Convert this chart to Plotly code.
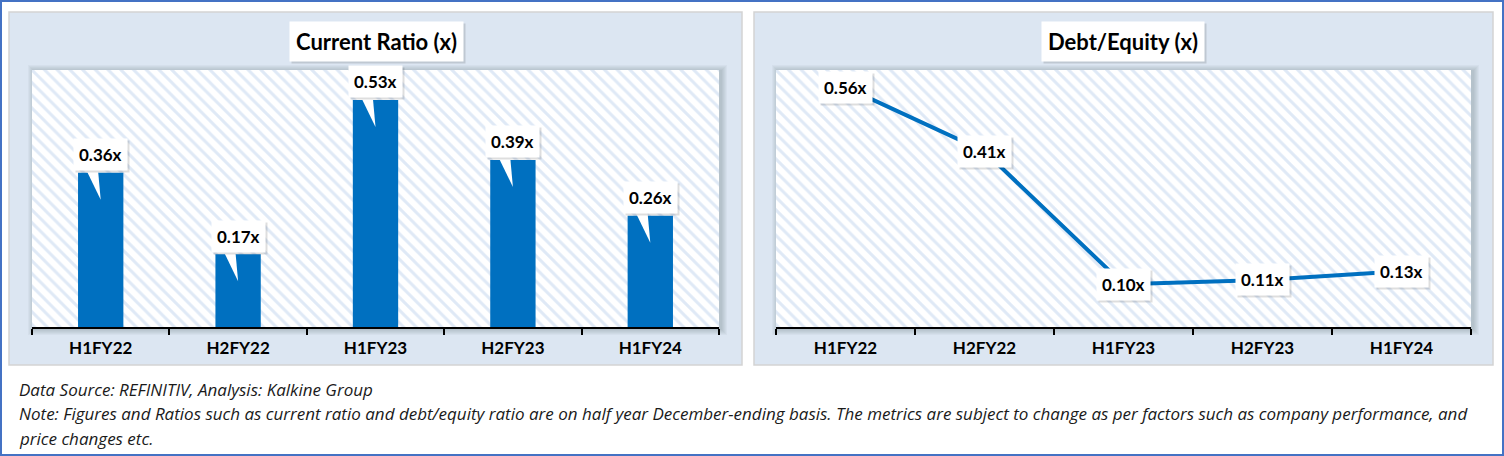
import plotly.graph_objects as go

# ---------------- data ----------------
categories = ["H1FY22", "H2FY22", "H1FY23", "H2FY23", "H1FY24"]
current_ratio = [0.36, 0.17, 0.53, 0.39, 0.26]
debt_equity = [0.56, 0.41, 0.10, 0.11, 0.13]
current_labels = [f"{v:.2f}x" for v in current_ratio]
debt_labels = [f"{v:.2f}x" for v in debt_equity]
title_left = "Current Ratio (x)"
title_right = "Debt/Equity (x)"
note_lines = [
    "Data Source: REFINITIV, Analysis: Kalkine Group",
    "Note: Figures and Ratios such as current ratio and debt/equity ratio are on half year December-ending basis. "
    "The metrics are subject to change as per factors such as company performance, and",
    "price changes etc.",
]

# ---------------- layout helpers ----------------
W, H = 1504, 456
FONT = "Lato"
NOTE_FONT = "Open Sans"
BLUE = "#0070c0"


def px(x):
    return x / W


def py(y):
    return 1 - y / H


LEFT_PLOT = (32, 70, 719, 327)
RIGHT_PLOT = (776, 70, 1471, 327)

fig = go.Figure()

# hatched white plot backgrounds on hidden base axes
for xa, ya in [("x", "y"), ("x3", "y3")]:
    fig.add_trace(go.Bar(
        x=[0.5], y=[1], width=[1], xaxis=xa, yaxis=ya,
        marker=dict(color="white", line_width=0,
                    pattern=dict(shape="\\", fgcolor="#bfd3ee", size=9, solidity=0.33)),
        hoverinfo="skip", showlegend=False,
    ))

# current ratio bars
fig.add_trace(go.Bar(
    x=categories, y=current_ratio, width=0.33, xaxis="x2", yaxis="y2",
    marker=dict(color=BLUE, line_width=0), showlegend=False, hoverinfo="x+y",
))

# debt/equity line
fig.add_trace(go.Scatter(
    x=categories, y=debt_equity, mode="lines", xaxis="x4", yaxis="y4",
    line=dict(color=BLUE, width=4), showlegend=False,
))

shapes = []
# outer border
shapes.append(dict(type="rect", xref="paper", yref="paper", x0=px(1), x1=px(1503), y0=py(1), y1=py(455),
                   line=dict(color="#4472c4", width=2), fillcolor="rgba(0,0,0,0)", layer="below"))
# panels
for x0, x1 in [(9, 742), (754, 1493)]:
    shapes.append(dict(type="rect", xref="paper", yref="paper", x0=px(x0), x1=px(x1), y0=py(12), y1=py(365),
                       line=dict(color="#d3d3d3", width=1.5), fillcolor="#dce6f2", layer="below"))
# plot-area soft shadows
for (l, t, r, b) in [LEFT_PLOT, RIGHT_PLOT]:
    for k in range(1, 7):
        shapes.append(dict(type="rect", xref="paper", yref="paper",
                           x0=px(l - k + 2), x1=px(r + k + 2), y0=py(b + k + 2), y1=py(t - k + 1),
                           line=dict(width=0), fillcolor="rgba(40,50,70,0.035)", layer="below"))

# callout pointers (white wedges anchored at each bar top, sized in pixels)
for c, v in zip(categories, current_ratio):
    shapes.append(dict(type="path", xref="x2", yref="y2", xsizemode="pixel", ysizemode="pixel",
                       xanchor=c, yanchor=v, path="M -16 6 L -3 6 L 0 -27 Z",
                       fillcolor="white", line=dict(width=0), layer="above"))

annotations = []


def boxed(x, y, text, size, xref, yref, pad, yshift=0):
    common = dict(x=x, y=y, xref=xref, yref=yref, text=f"<b>{text}</b>", borderpad=pad,
                  xanchor="center", yanchor="middle", showarrow=False)
    # soft shadow
    annotations.append(dict(font=dict(family=FONT, size=size, color="rgba(0,0,0,0)"),
                            bgcolor="rgba(0,0,0,0.13)", xshift=2, yshift=yshift - 2, **common))
    annotations.append(dict(font=dict(family=FONT, size=size, color="black"),
                            bgcolor="white", yshift=yshift, **common))


# titles
boxed(px(376), py(42), title_left, 22, "paper", "paper", 6)
boxed(px(1123), py(42), title_right, 22, "paper", "paper", 6)

# bar callout labels
for c, v, t in zip(categories, current_ratio, current_labels):
    boxed(c, v, t, 17, "x2", "y2", 5, yshift=18)

# line labels
for c, v, t in zip(categories, debt_equity, debt_labels):
    boxed(c, v, t, 17, "x4", "y4", 5)

# footnotes
for i, line in enumerate(note_lines):
    annotations.append(dict(x=px(17), y=py(389 + i * 24.5), xref="paper", yref="paper",
                            xanchor="left", yanchor="middle", text=line, showarrow=False,
                            font=dict(family=NOTE_FONT, size=17, color="#1a1a1a", style="italic")))

base_axis = dict(visible=False, range=[0, 1], fixedrange=True, showgrid=False, zeroline=False)
cat_axis = dict(type="category", range=[-0.5, 4.5], showline=True, linecolor="black", linewidth=2,
                ticks="outside", tickson="boundaries", ticklen=6, tickwidth=2, tickcolor="black",
                tickfont=dict(family=FONT, size=17, color="black", weight="bold"),
                ticklabelstandoff=5, showgrid=False, zeroline=False, fixedrange=True)
val_axis = dict(range=[0, 0.6], visible=False, showgrid=False, zeroline=False, fixedrange=True)

ldom_x = [px(LEFT_PLOT[0]), px(LEFT_PLOT[2])]
rdom_x = [px(RIGHT_PLOT[0]), px(RIGHT_PLOT[2])]
dom_y = [py(LEFT_PLOT[3]), py(LEFT_PLOT[1])]

fig.update_layout(
    width=W, height=H, autosize=False,
    margin=dict(l=0, r=0, t=0, b=0),
    paper_bgcolor="white", plot_bgcolor="rgba(0,0,0,0)",
    showlegend=False, barmode="overlay",
    font=dict(family=FONT, color="black"),
    xaxis=dict(domain=ldom_x, anchor="y", **base_axis),
    yaxis=dict(domain=dom_y, anchor="x", **base_axis),
    xaxis2=dict(overlaying="x", anchor="y2", domain=ldom_x, **cat_axis),
    yaxis2=dict(overlaying="y", anchor="x2", domain=dom_y, **val_axis),
    xaxis3=dict(domain=rdom_x, anchor="y3", **base_axis),
    yaxis3=dict(domain=dom_y, anchor="x3", **base_axis),
    xaxis4=dict(overlaying="x3", anchor="y4", domain=rdom_x, **cat_axis),
    yaxis4=dict(overlaying="y3", anchor="x4", domain=dom_y, **val_axis),
    shapes=shapes,
    annotations=annotations,
)

fig.write_html("out.html", config={"displayModeBar": False},
               post_script="document.body.style.margin='0';document.body.style.overflow='hidden';")
